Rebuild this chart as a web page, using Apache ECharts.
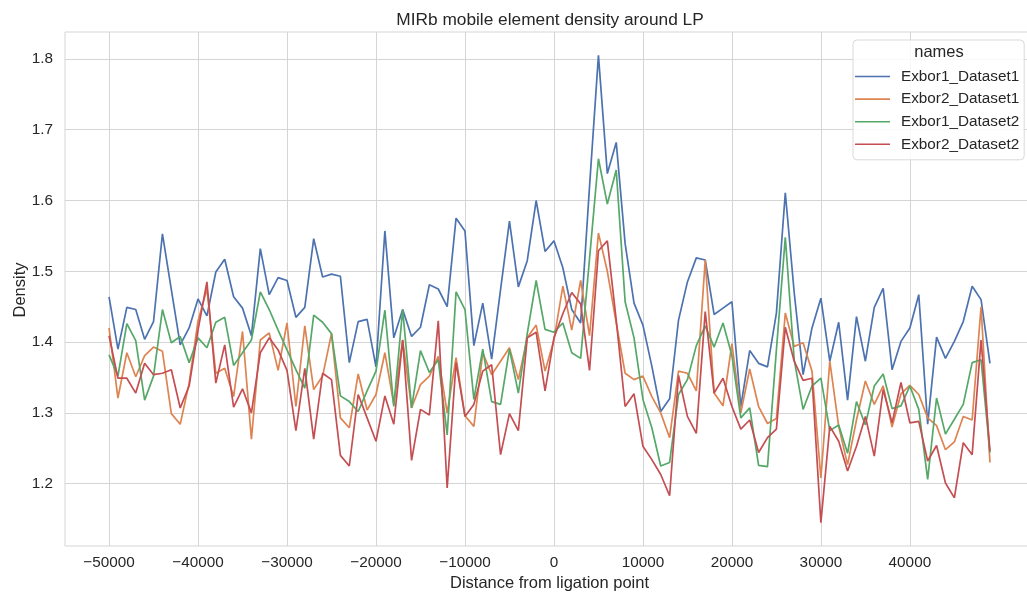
<!DOCTYPE html>
<html><head><meta charset="utf-8">
<script src="https://cdn.jsdelivr.net/npm/echarts@6/dist/echarts.min.js"></script>
<style>html,body{margin:0;padding:0;background:#fff}#c{width:1027px;height:607px}</style>
</head><body><div id="c"></div>
<script>
const positions = [-50000,-49000,-48000,-47000,-46000,-45000,-44000,-43000,-42000,-41000,
-40000,-39000,-38000,-37000,-36000,-35000,-34000,-33000,-32000,-31000,
-30000,-29000,-28000,-27000,-26000,-25000,-24000,-23000,-22000,-21000,
-20000,-19000,-18000,-17000,-16000,-15000,-14000,-13000,-12000,-11000,
-10000,-9000,-8000,-7000,-6000,-5000,-4000,-3000,-2000,-1000,
0,1000,2000,3000,4000,5000,6000,7000,8000,9000,
10000,11000,12000,13000,14000,15000,16000,17000,18000,19000,
20000,21000,22000,23000,24000,25000,26000,27000,28000,29000,
30000,31000,32000,33000,34000,35000,36000,37000,38000,39000,
40000,41000,42000,43000,44000,45000,46000,47000,48000,49000];

const exbor1_dataset1 = [1.464,1.390,1.449,1.446,1.404,1.429,1.553,1.474,1.396,1.420,
1.461,1.437,1.499,1.517,1.464,1.448,1.409,1.532,1.467,1.491,
1.487,1.435,1.449,1.546,1.492,1.496,1.493,1.371,1.429,1.432,
1.365,1.557,1.406,1.446,1.408,1.421,1.481,1.475,1.450,1.575,
1.557,1.395,1.455,1.376,1.474,1.571,1.478,1.515,1.600,1.528,
1.543,1.505,1.446,1.427,1.620,1.805,1.638,1.682,1.539,1.455,
1.424,1.366,1.302,1.320,1.431,1.485,1.519,1.516,1.439,1.448,
1.457,1.309,1.388,1.370,1.365,1.441,1.611,1.470,1.354,1.420,
1.462,1.373,1.428,1.318,1.436,1.373,1.449,1.476,1.361,1.401,
1.420,1.467,1.284,1.407,1.377,1.401,1.429,1.479,1.460,1.370];

const exbor2_dataset1 = [1.420,1.321,1.385,1.351,1.381,1.393,1.387,1.299,1.284,1.342,
1.430,1.475,1.356,1.363,1.323,1.415,1.263,1.403,1.413,1.360,
1.427,1.309,1.423,1.333,1.352,1.412,1.293,1.279,1.355,1.304,
1.326,1.385,1.312,1.403,1.307,1.340,1.352,1.380,1.300,1.378,
1.296,1.281,1.385,1.354,1.373,1.392,1.347,1.406,1.424,1.359,
1.403,1.479,1.417,1.487,1.409,1.554,1.500,1.427,1.356,1.347,
1.352,1.323,1.300,1.265,1.359,1.356,1.331,1.516,1.328,1.310,
1.398,1.300,1.362,1.309,1.285,1.292,1.441,1.394,1.399,1.359,
1.208,1.373,1.281,1.227,1.290,1.345,1.312,1.338,1.280,1.327,
1.339,1.326,1.293,1.282,1.248,1.259,1.295,1.290,1.450,1.230];

const exbor1_dataset2 = [1.382,1.352,1.426,1.402,1.318,1.352,1.446,1.399,1.408,1.371,
1.406,1.392,1.428,1.435,1.367,1.385,1.403,1.471,1.446,1.417,
1.389,1.361,1.335,1.438,1.428,1.412,1.324,1.316,1.302,1.331,
1.359,1.445,1.309,1.446,1.307,1.388,1.357,1.375,1.269,1.471,
1.446,1.319,1.390,1.316,1.312,1.390,1.328,1.412,1.487,1.418,
1.414,1.427,1.385,1.377,1.518,1.659,1.595,1.643,1.457,1.406,
1.319,1.279,1.225,1.230,1.326,1.347,1.395,1.423,1.393,1.427,
1.381,1.293,1.307,1.226,1.224,1.389,1.548,1.375,1.305,1.338,
1.349,1.275,1.283,1.243,1.316,1.283,1.338,1.355,1.306,1.310,
1.338,1.305,1.206,1.321,1.270,1.291,1.312,1.371,1.375,1.244];

const exbor2_dataset2 = [1.409,1.349,1.349,1.328,1.370,1.354,1.356,1.361,1.307,1.338,
1.417,1.485,1.342,1.396,1.308,1.334,1.300,1.385,1.406,1.389,
1.360,1.275,1.363,1.263,1.356,1.347,1.240,1.225,1.326,1.293,
1.260,1.324,1.284,1.403,1.233,1.305,1.297,1.430,1.194,1.371,
1.295,1.312,1.359,1.368,1.241,1.299,1.275,1.406,1.414,1.331,
1.406,1.440,1.470,1.454,1.360,1.529,1.543,1.431,1.309,1.327,
1.253,1.234,1.213,1.183,1.353,1.295,1.271,1.443,1.328,1.349,
1.309,1.277,1.290,1.244,1.265,1.277,1.421,1.373,1.346,1.349,
1.145,1.281,1.260,1.218,1.253,1.295,1.239,1.333,1.286,1.343,
1.286,1.288,1.232,1.254,1.201,1.180,1.258,1.241,1.403,1.246];

const seriesNames = ['Exbor1_Dataset1','Exbor2_Dataset1','Exbor1_Dataset2','Exbor2_Dataset2'];
const seriesValues = [exbor1_dataset1, exbor2_dataset1, exbor1_dataset2, exbor2_dataset2];
const seriesColors = ['#4c72b0','#dd8452','#55a868','#c44e52'];
const xTicks = [-50000,-40000,-30000,-20000,-10000,0,10000,20000,30000,40000];
const yTicks = [1.2,1.3,1.4,1.5,1.6,1.7,1.8];

const FONT = '"Liberation Sans", Arial, sans-serif';
const TXT = '#262626';
const GRIDC = '#d5d5d5';

const chart = echarts.init(document.getElementById('c'), null, {renderer: 'canvas'});
const option = {
  animation: false,
  backgroundColor: '#ffffff',
  grid: {left: 65, right: -7, top: 32, bottom: 61, containLabel: false, outerBoundsMode: 'none',
         show: true, borderColor: GRIDC, borderWidth: 1, backgroundColor: 'transparent'},
  xAxis: {
    type: 'value', min: -54950, max: 53950,
    name: 'Distance from ligation point', nameLocation: 'middle', nameGap: 29,
    nameTextStyle: {fontFamily: FONT, fontSize: 16.5, color: TXT},
    axisLine: {show: false},
    axisTick: {show: false, customValues: xTicks},
    axisLabel: {customValues: xTicks, formatter: v => String(v).replace('-', '\u2212'), margin: 9, fontFamily: FONT, fontSize: 15.3, color: TXT},
    splitLine: {show: true, lineStyle: {color: GRIDC, width: 1}}
  },
  yAxis: {
    type: 'value', min: 1.112, max: 1.838,
    axisLine: {show: false},
    axisTick: {show: false, customValues: yTicks},
    axisLabel: {customValues: yTicks, formatter: v => v.toFixed(1), margin: 12, fontFamily: FONT, fontSize: 15.3, color: TXT},
    splitLine: {show: true, lineStyle: {color: GRIDC, width: 1}}
  },
  legend: {
    orient: 'vertical', left: 853, top: 40,
    padding: [29, 5, 8, 2], itemGap: 7.6, itemWidth: 35, itemHeight: 14,
    icon: 'path://M0,6.2 L35,6.2 L35,7.8 L0,7.8 Z',
    backgroundColor: 'rgba(255,255,255,0.85)', borderColor: '#d9d9d9', borderWidth: 1, borderRadius: 4,
    textStyle: {fontFamily: FONT, fontSize: 15.3, lineHeight: 14, color: TXT, padding: [0, 0, 0, 6]},
    data: seriesNames
  },
  graphic: [
    {type: 'text', z: 100, x: 550, y: 20,
     style: {text: 'MIRb mobile element density around LP', fontFamily: FONT, fontSize: 17.3, fill: TXT, textAlign: 'center', textVerticalAlign: 'middle'}},
    {type: 'text', z: 100, x: 939, y: 52,
     style: {text: 'names', fontFamily: FONT, fontSize: 16.5, fill: TXT, textAlign: 'center', textVerticalAlign: 'middle'}},
    {type: 'text', z: 100, x: 20, y: 290, rotation: Math.PI / 2,
     style: {text: 'Density', fontFamily: FONT, fontSize: 16.5, fill: TXT, textAlign: 'center', textVerticalAlign: 'middle'}}
  ],
  series: seriesNames.map((n, k) => ({
    name: n, type: 'line', symbol: 'none', smooth: false,
    data: positions.map((x, i) => [x, seriesValues[k][i]]),
    lineStyle: {color: seriesColors[k], width: 1.7},
    itemStyle: {color: seriesColors[k]},
    z: 2 + k
  }))
};
chart.setOption(option);
</script>
</body></html>
